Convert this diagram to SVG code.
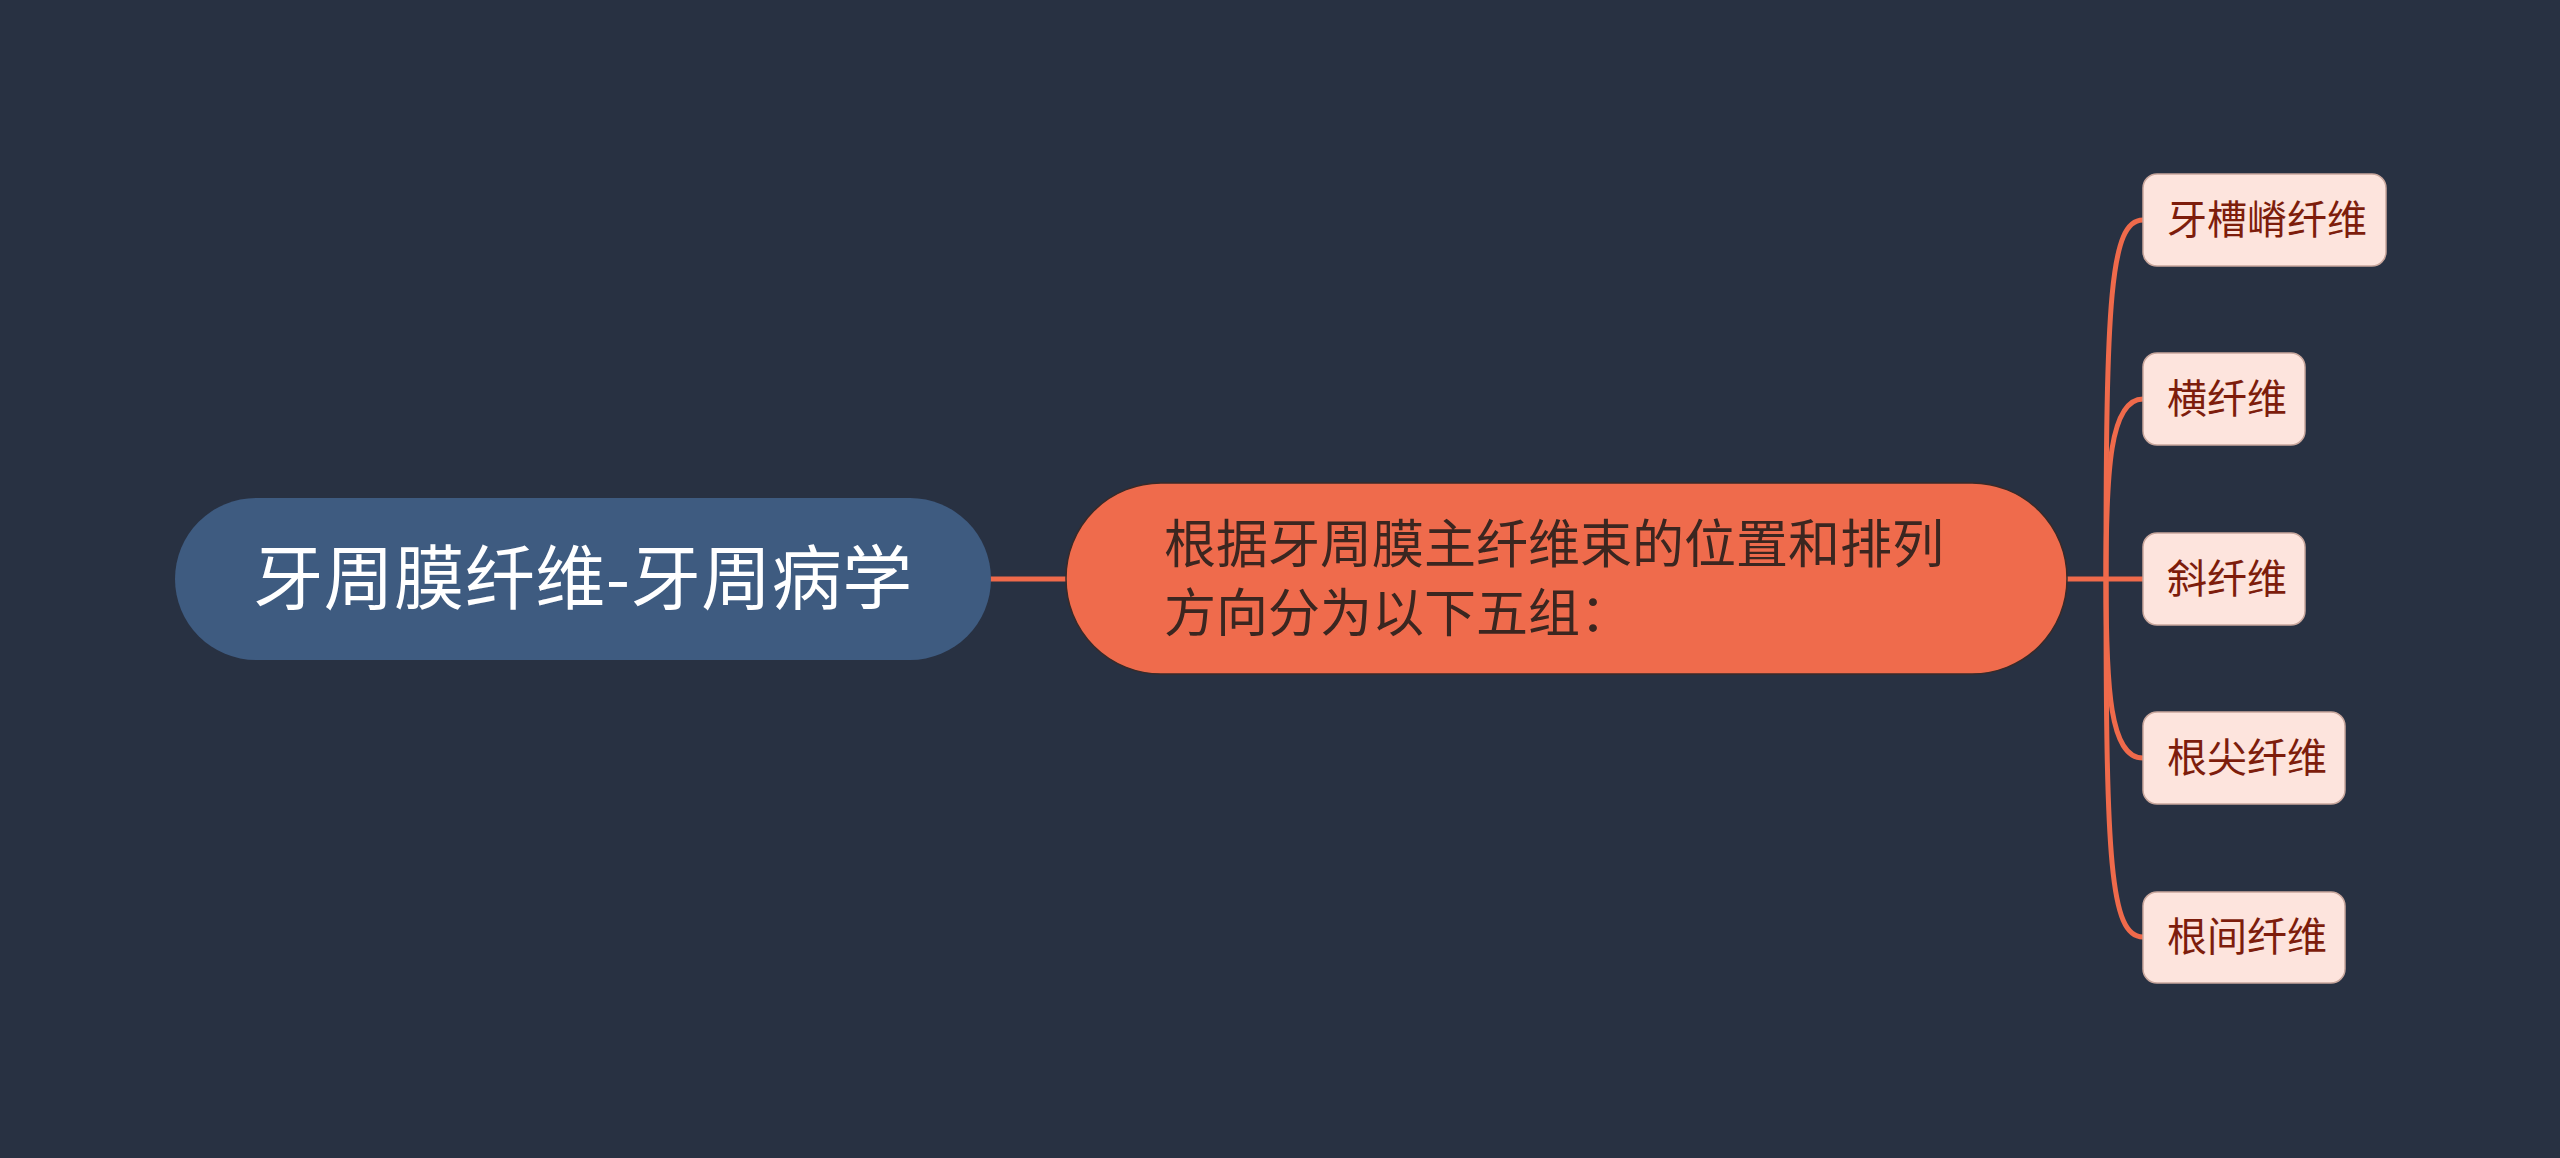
<svg xmlns="http://www.w3.org/2000/svg" width="2560" height="1158" viewBox="0 0 2560 1158">
<style>
.t{font-family:"Noto Sans CJK SC","Noto Sans",sans-serif}
.conn{fill:none;stroke:#ef6a4b;stroke-width:5;stroke-linecap:round}
.leaf rect{fill:#fde4dd;stroke:#c9a79d;stroke-width:1.5}
.leaf text{font-size:40px;fill:#7d1d0c}
</style>
<rect x="0" y="0" width="2560" height="1158" fill="#283142"/>
<g id="connectors">
<line class="conn" x1="991" y1="579" x2="1066" y2="579"/>
<line class="conn" x1="2067" y1="579" x2="2143" y2="579"/>
<path class="conn" d="M2106,579 C2106,300 2110,220 2143,220"/>
<path class="conn" d="M2106,579 C2106,470 2110,399 2143,399"/>
<path class="conn" d="M2106,579 C2106,690 2110,758 2143,758"/>
<path class="conn" d="M2106,579 C2106,860 2110,937 2143,937"/>
</g>
<g id="root">
<rect x="175" y="498" width="816" height="162" rx="81" fill="#3e5b80"/>
<text class="t" x="583" y="604" font-size="70" letter-spacing="0.5" fill="#ffffff" text-anchor="middle">牙周膜纤维-牙周病学</text>
</g>
<g id="main">
<rect x="1066" y="483" width="1001" height="191" rx="95" fill="#ef6b4c" stroke="#3a2a28" stroke-width="1.5"/>
<text class="t" x="1164" y="563" font-size="52" fill="#3b2620">根据牙周膜主纤维束的位置和排列</text>
<text class="t" x="1164" y="632" font-size="52" fill="#3b2620">方向分为以下五组：</text>
</g>
<g id="leaf1" class="leaf">
<rect x="2143" y="174" width="243" height="92" rx="14"/>
<text class="t" x="2167" y="234">牙槽嵴纤维</text>
</g>
<g id="leaf2" class="leaf">
<rect x="2143" y="353" width="162" height="92" rx="14"/>
<text class="t" x="2167" y="413">横纤维</text>
</g>
<g id="leaf3" class="leaf">
<rect x="2143" y="533" width="162" height="92" rx="14"/>
<text class="t" x="2167" y="593">斜纤维</text>
</g>
<g id="leaf4" class="leaf">
<rect x="2143" y="712" width="202" height="92" rx="14"/>
<text class="t" x="2167" y="772">根尖纤维</text>
</g>
<g id="leaf5" class="leaf">
<rect x="2143" y="892" width="202" height="91" rx="14"/>
<text class="t" x="2167" y="951">根间纤维</text>
</g>
</svg>
